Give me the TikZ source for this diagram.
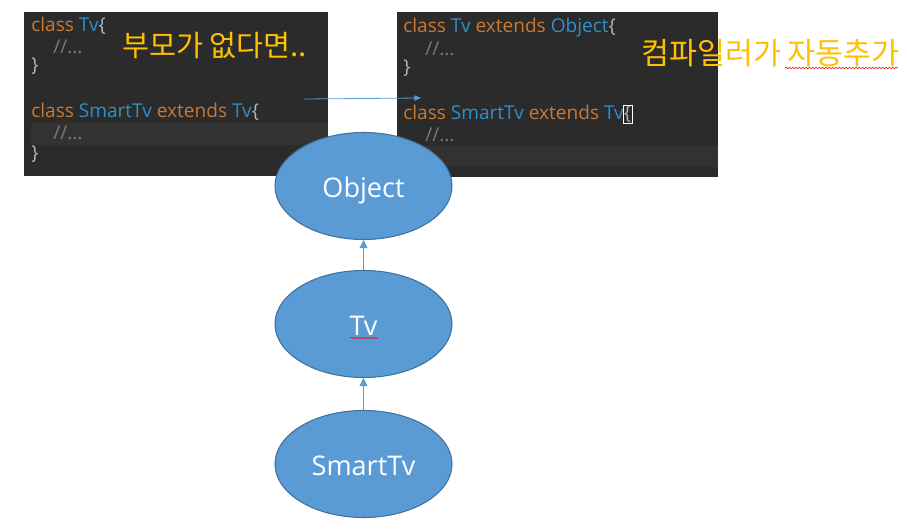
\documentclass[tikz,border=0pt]{standalone}
\usepackage{fontspec}
\setmainfont{Open Sans}
\newfontfamily\krfont{Noto Sans CJK KR}
\usetikzlibrary{arrows.meta,decorations.pathmorphing,calc,shapes.geometric}
\definecolor{panel}{HTML}{2B2B2B}
\definecolor{rowhl}{HTML}{323232}
\definecolor{kw}{HTML}{CC7832}
\definecolor{nm}{HTML}{2E8FC9}
\definecolor{br}{HTML}{A9B7C6}
\definecolor{cm}{HTML}{7A7A7A}
\definecolor{note}{HTML}{FFC000}
\definecolor{efill}{HTML}{5B9BD5}
\definecolor{edraw}{HTML}{41719C}
\definecolor{arr}{HTML}{5B9BD5}
\newcommand{\kwd}[1]{\textcolor{kw}{#1}}
\newcommand{\nmd}[1]{\textcolor{nm}{#1}}
\newcommand{\brd}[1]{\textcolor{br}{#1}}
\newcommand{\cmd}[1]{\textcolor{cm}{#1}}
\newlength{\pxu}
\setlength{\pxu}{0.75pt}
\tikzset{
  code/.style={anchor=base west,inner sep=0pt,font=\fontsize{14.3}{16}\selectfont},
  notetext/.style={anchor=base west,inner sep=0pt,text=note,font=\krfont\fontsize{22}{26}\selectfont},
  cls/.style={ellipse,draw=edraw,fill=efill,line width=0.8pt,minimum width=177\pxu,minimum height=107\pxu,text=white,font=\fontsize{20.3}{23}\selectfont,inner sep=0pt,text height=17.4pt,text depth=0pt},
  inh/.style={draw=arr,line width=0.6pt,-{Triangle[length=6pt,width=6pt]}},
  squig/.style={draw=red,line width=0.4pt,decorate,decoration={snake,amplitude=0.6pt,segment length=2.5pt}}
}
\begin{document}
\begin{tikzpicture}[x=0.75pt,y=-0.75pt]
\useasboundingbox (0,0) rectangle (907,530);
\fill[white] (0,0) rectangle (907,530);
% left panel
\fill[panel] (24,12) rectangle (328,176);
\fill[rowhl] (31,123) rectangle (328,145);
\node[code] (l1) at (31,32) {\kwd{class} \nmd{Tv}\brd{\{}};
\node[code] (l2) at (53,54) {\cmd{//...}};
\node[code] (l3) at (31,72) {\brd{\}}};
\node[code] (l4) at (31,118) {\kwd{class} \nmd{SmartTv} \kwd{extends} \nmd{Tv}\brd{\{}};
\node[code] (l5) at (53,140) {\cmd{//...}};
\node[code] (l6) at (31,160) {\brd{\}}};
\node[notetext] (n1) at (122,57) {부모가 없다면..};
% right panel
\fill[panel] (397,12) rectangle (718,177);
\fill[rowhl] (397,146) rectangle (718,167);
\node[code] (r1) at (403,33) {\kwd{class} \nmd{Tv} \kwd{extends} \nmd{Object}\brd{\{}};
\node[code] (r2) at (425,56) {\cmd{//...}};
\node[code] (r3) at (403,74) {\brd{\}}};
\node[code] (r4) at (403,120) {\kwd{class} \nmd{SmartTv} \kwd{extends} \nmd{Tv}\brd{\{}};
\node[code] (r5) at (425,142) {\cmd{//...}};
\draw[white,line width=0.6pt] ($(r4.east)+(-8,-9)$) rectangle ($(r4.east)+(1,9)$);
\node[notetext,font=\krfont\fontsize{22.8}{27}\selectfont] (n2) at (641,65) {컴파일러가 자동추가};
\coordinate (sq1) at (785,68);
\coordinate (sq2) at (898,68);
\draw[squig] (sq1) -- (sq2);
% arrow between panels
\coordinate (a1) at (304,99);
\coordinate (a2) at (421,98);
\draw[draw=arr,line width=0.6pt,-{Triangle[length=5pt,width=4pt]}] (a1) -- (a2);
% ellipses
\node[cls] (obj) at (363.5,186) {Object};
\node[cls] (tv) at (363.5,324) {Tv};
\node[cls] (stv) at (363.5,464) {SmartTv};
\coordinate (q1) at (350,338);
\coordinate (q2) at (378,338);
\draw[squig] (q1) -- (q2);
\draw[inh] (tv) -- (obj);
\draw[inh] (stv) -- (tv);
\end{tikzpicture}
\end{document}
